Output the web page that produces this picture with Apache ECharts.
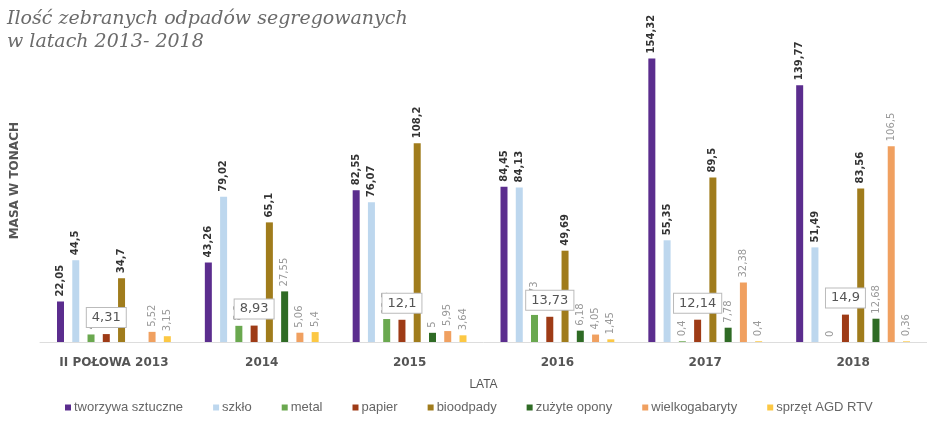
<!DOCTYPE html>
<html><head><meta charset="utf-8">
<script src="https://cdn.jsdelivr.net/npm/echarts@6/dist/echarts.min.js"></script>
<style>html,body{margin:0;padding:0;background:#fff}#c{width:927px;height:433px}</style>
</head><body><div id="c"></div>
<script>
const categories = ['II POŁOWA 2013', '2014', '2015', '2016', '2017', '2018'];
const seriesNames = ['tworzywa sztuczne', 'szkło', 'metal', 'papier', 'bioodpady', 'zużyte opony', 'wielkogabaryty', 'sprzęt AGD RTV'];
const tworzywa = [22.05, 43.26, 82.55, 84.45, 154.32, 139.77];
const szklo = [44.5, 79.02, 76.07, 84.13, 55.35, 51.49];
const metal = [4.1, 8.8, 12.5, 14.73, 0.4, 0];
const papier = [4.31, 8.93, 12.1, 13.73, 12.14, 14.9];
const bioodpady = [34.7, 65.1, 108.2, 49.69, 89.5, 83.56];
const opony = ['-', 27.55, 5, 6.18, 7.78, 12.68];
const wielkogabaryty = [5.52, 5.06, 5.95, 4.05, 32.38, 106.5];
const sprzet = [3.15, 5.4, 3.64, 1.45, 0.4, 0.36];
const colors = ['#5b2d8e', '#bdd7ee', '#6aa84f', '#9e3b16', '#a07c1c', '#2f6b25', '#f0a060', '#fcc844'];
const values = [tworzywa, szklo, metal, papier, bioodpady, opony, wielkogabaryty, sprzet];
const boldSeries = [0, 1, 4];

const fmt = p => String(p.value).replace('.', ',');

const series = values.map((arr, i) => {
  const s = {
    name: seriesNames[i], type: 'bar', data: arr, barWidth: 7, barGap: '118%',
    itemStyle: { color: colors[i] },
    label: {
      show: true, position: 'top', rotate: 90, align: 'left', verticalAlign: 'middle',
      distance: 5, formatter: fmt, fontFamily: 'DejaVu Sans', fontSize: 10,
      color: boldSeries.includes(i) ? '#333' : '#999',
      fontWeight: boldSeries.includes(i) ? 'bold' : 'normal'
    }
  };
  if (i === 3) {
    s.z = 5;
    s.label = {
      show: true, position: 'top', rotate: 0, distance: 7, formatter: fmt,
      fontFamily: 'DejaVu Sans', fontSize: 13, color: '#555',
      backgroundColor: '#fff', borderColor: '#bbb', borderWidth: 1,
      padding: [3, 5, 3, 5]
    };
  }
  return s;
});

const chart = echarts.init(document.getElementById('c'));
chart.setOption({
  animation: false,
  color: colors,
  title: {
    text: 'Ilość zebranych odpadów segregowanych\nw latach 2013- 2018',
    left: 2, top: 3,
    textStyle: { fontFamily: 'DejaVu Serif', fontStyle: 'italic', fontWeight: 'normal', fontSize: 19, color: '#6b6b6b', lineHeight: 23 }
  },
  legend: {
    data: seriesNames, bottom: 14, left: 60, itemWidth: 6, itemHeight: 6, itemGap: 30,
    icon: 'rect',
    textStyle: { fontFamily: 'Liberation Sans', fontSize: 13, color: '#666', padding: [0, 0, 0, -2] }
  },
  graphic: [{
    type: 'text', left: 9, top: 122, rotation: Math.PI / 2,
    style: { text: 'MASA W TONACH', font: 'bold 12px DejaVu Sans', fill: '#555' }
  }],
  grid: { left: 40, right: -19, top: 48, bottom: 91 },
  xAxis: {
    type: 'category', data: categories,
    name: 'LATA', nameLocation: 'middle', nameGap: 37,
    nameTextStyle: { fontFamily: 'Liberation Sans', fontSize: 12, color: '#555' },
    axisLine: { lineStyle: { color: '#ddd' } }, axisTick: { show: false },
    axisLabel: { margin: 15, fontFamily: 'DejaVu Sans', fontWeight: 'bold', fontSize: 12, color: '#555' }
  },
  yAxis: {
    type: 'value', min: 0, max: 160,
    axisLine: { show: false }, axisTick: { show: false }, axisLabel: { show: false },
    splitLine: { show: false }
  },
  series: series
});
</script></body></html>
